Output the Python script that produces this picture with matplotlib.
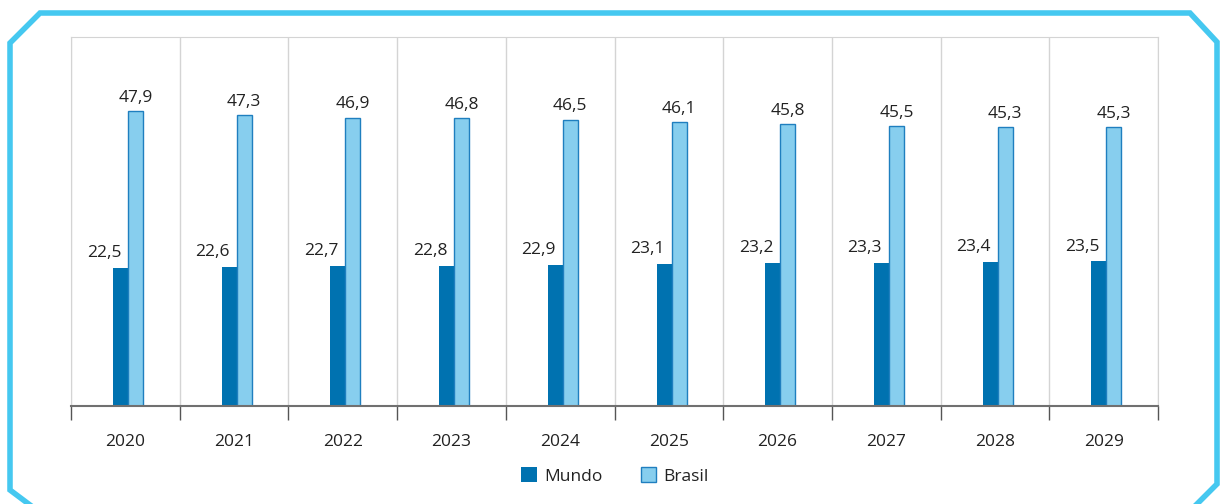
import numpy as np
from matplotlib import pyplot as plt
from matplotlib.lines import Line2D

plt.rcParams['font.family'] = ['Open Sans', 'DejaVu Sans']

anos = ['2020', '2021', '2022', '2023', '2024', '2025', '2026', '2027', '2028', '2029']
mundo = [22.5, 22.6, 22.7, 22.8, 22.9, 23.1, 23.2, 23.3, 23.4, 23.5]
brasil = [47.9, 47.3, 46.9, 46.8, 46.5, 46.1, 45.8, 45.5, 45.3, 45.3]

cor_mundo = '#0072b0'
cor_brasil = '#87ceee'
cor_borda = '#1f7fbf'

fig = plt.figure(figsize=(12.2, 5.04), dpi=100)
ax = fig.add_axes([71 / 1220, 1 - 406 / 504, (1158 - 71) / 1220, (406 - 37) / 504])

x = np.arange(len(anos))
w = 0.138
b1 = ax.bar(x - w / 2 + 0.025, mundo, w, color=cor_mundo, label='Mundo', zorder=3)
b2 = ax.bar(x + w / 2 + 0.025, brasil, w, color=cor_brasil, edgecolor=cor_borda,
            linewidth=1, label='Brasil', zorder=3)

def fmt(v):
    return f'{v:.1f}'.replace('.', ',')

for r, v in zip(b1, mundo):
    ax.annotate(fmt(v), (r.get_x() + r.get_width() / 2, v), xytext=(-12, 5),
                textcoords='offset points', ha='center', va='bottom', fontsize=12.5, color='#222222')
for r, v in zip(b2, brasil):
    ax.annotate(fmt(v), (r.get_x() + r.get_width() / 2, v), xytext=(0, 4),
                textcoords='offset points', ha='center', va='bottom', fontsize=12.5, color='#222222')

ax.set_xlim(-0.5, len(anos) - 0.5)
ax.set_ylim(0, 60)
ax.set_yticks([])

# limites das categorias (ticks maiores) e rotulos no centro (ticks menores)
ax.set_xticks(np.arange(-0.5, len(anos), 1))
ax.set_xticklabels([])
ax.tick_params(axis='x', which='major', length=10, width=1, color='#555555')
ax.set_xticks(x, minor=True)
ax.set_xticklabels(anos, minor=True, fontsize=12.5, color='#222222')
ax.tick_params(axis='x', which='minor', length=0, pad=20)

ax.grid(axis='x', which='major', color='#d4d4d4', linewidth=1, zorder=0)
for s in ['top', 'left', 'right']:
    ax.spines[s].set_color('#d4d4d4')
ax.spines['bottom'].set_color('#707070')
ax.spines['bottom'].set_linewidth(1.5)
ax.spines['bottom'].set_zorder(4)

leg = fig.legend(handles=[b1, b2], loc='center', bbox_to_anchor=(615 / 1220, 1 - 476 / 504),
                 ncol=2, frameon=False, fontsize=12.5, handlelength=0.9, handleheight=0.9,
                 columnspacing=2.2, handletextpad=0.4)
for t in leg.get_texts():
    t.set_color('#222222')

# moldura com cantos cortados
px = [30, 10, 10, 40, 1190, 1217, 1217, 1196]
py = [505, 490, 43, 13, 13, 42, 484, 505]
fig.add_artist(Line2D([p / 1220 for p in px], [1 - p / 504 for p in py],
                      color='#45c8f0', linewidth=4, solid_joinstyle='miter',
                      transform=fig.transFigure))

plt.savefig('out.png', dpi=100)
